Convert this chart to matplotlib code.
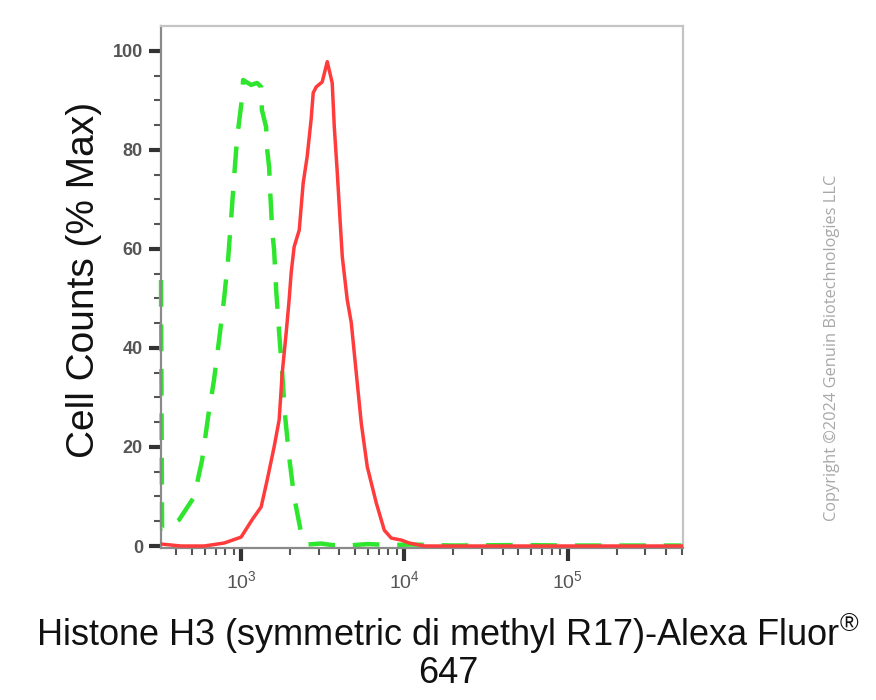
import matplotlib
matplotlib.use("Agg")
import matplotlib.pyplot as plt
from matplotlib.ticker import LogLocator, FixedLocator, NullFormatter, FixedFormatter

# ---------------- data ----------------
green_x = [323, 328, 351, 417, 515, 577, 628, 682, 733, 787, 832, 868, 906, 945,
           1014, 1029, 1152, 1253, 1327, 1340, 1423, 1444, 1486, 1507, 1528, 1549,
           1593, 1640, 1711, 1786, 1862, 1969, 2113, 2333, 2539, 3096, 3600, 4500,
           6000, 8000, 11000, 20000, 50000, 100000, 200000, 500000]
green_y = [53.7, 3.5, 3.6, 5.3, 9.9, 17.4, 26.1, 33.5, 41.6, 50.0, 57.8, 65.9, 74.5, 82.4,
           90.5, 94.1, 93.1, 93.5, 92.7, 88.1, 84.6, 80.1, 76.4, 71.5, 67.9, 63.8,
           59.8, 51.7, 43.0, 34.9, 26.1, 18.0, 9.9, 2.6, 0.3, 0.5, 0.2, 0.1,
           0.4, 0.2, 0.3, 0.1, 0.2, 0.1, 0.1, 0.1]

red_x = [323, 429, 593, 787, 1000, 1168, 1327, 1444, 1593, 1711, 1786, 1888, 1969,
         2027, 2113, 2271, 2401, 2539, 2685, 2766, 2886, 3140, 3372, 3616, 3724,
         3884, 4049, 4169, 4470, 4731, 5078, 5449, 5929, 6733, 7538, 8318, 9590,
         10733, 13270, 20000, 50000, 100000, 200000, 500000]
red_y = [0.4, 0.0, 0.0, 0.6, 1.8, 5.3, 7.9, 13.3, 20.0, 25.5, 34.9, 43.0, 49.7,
         55.2, 60.4, 63.8, 73.3, 78.6, 86.1, 91.5, 92.7, 93.7, 97.8, 93.5, 84.6,
         75.4, 65.3, 58.4, 49.7, 45.1, 34.9, 24.8, 16.0, 8.7, 3.2, 1.6, 1.2,
         0.6, 0.0, 0.0, 0.0, 0.0, 0.0, 0.0]

y_ticks = [0, 20, 40, 60, 80, 100]
x_major = [1e3, 1e4, 1e5]
x_labels = ["$10^{3}$", "$10^{4}$", "$10^{5}$"]

xlabel_text = "Histone H3 (symmetric di methyl R17)-Alexa Fluor$^{\\circledR}$\n647"
ylabel_text = "Cell Counts (% Max)"
copyright_text = "Copyright \u00a92024 Genuin Biotechnologies LLC"

# ---------------- fonts ----------------
plt.rcParams['font.family'] = ['Liberation Sans', 'DejaVu Sans']
plt.rcParams['mathtext.fontset'] = 'custom'
plt.rcParams['mathtext.rm'] = 'Liberation Sans'
plt.rcParams['mathtext.bf'] = 'Liberation Sans:bold'
plt.rcParams['mathtext.it'] = 'Liberation Sans:italic'

fig = plt.figure(figsize=(8.76, 7.0), dpi=100)
ax = fig.add_axes([161/876, 1 - 548/700, (683-161)/876, (548-26)/700])

ax.plot(green_x, green_y, color="#2ee62e", lw=3.2, dashes=(6, 4), zorder=2, clip_on=False)
ax.plot(red_x, red_y, color="#ff3b3b", lw=2.5, zorder=3)

ax.set_xscale("log")
ax.set_xlim(323, 510000)
ax.set_ylim(-0.4, 105)

ax.xaxis.set_major_locator(FixedLocator(x_major))
ax.xaxis.set_major_formatter(FixedFormatter(x_labels))
ax.xaxis.set_minor_locator(LogLocator(base=10, subs=[2, 3, 4, 5, 6, 7, 8, 9], numticks=20))
ax.xaxis.set_minor_formatter(NullFormatter())

ax.set_yticks(y_ticks)
ax.set_yticks(range(0, 105, 5), minor=True)

for s in ["left", "bottom"]:
    ax.spines[s].set_color("#8a8a8a")
    ax.spines[s].set_linewidth(1.6)
for s in ["top", "right"]:
    ax.spines[s].set_color("#c4c4c4")
    ax.spines[s].set_linewidth(1.6)

ax.tick_params(axis="both", which="major", direction="out", length=9, width=3,
               color="#333333", labelcolor="#555555")
ax.tick_params(axis="y", labelsize=13, pad=4)
ax.tick_params(axis="x", labelsize=14, pad=7)
ax.tick_params(axis="both", which="minor", direction="out", length=5, width=1.5,
               color="#555555")
for lab in ax.get_yticklabels():
    lab.set_fontweight("bold")

ax.set_ylabel(ylabel_text, fontsize=28, color="#111111")
ax.yaxis.set_label_coords(-(161 - 102) / 522, (548 - 280) / 522)
ax.set_xlabel(xlabel_text, fontsize=26, color="#111111", linespacing=1.0)
ax.xaxis.set_label_coords((448 - 161) / 522, -(691 - 548) / 522)
ax.xaxis.label.set_va("bottom")

fig.text(832/876, 1 - 348/700, copyright_text, rotation=90, ha="center", va="center",
         fontsize=11.8, color="#a8a8a8", family=["Open Sans", "DejaVu Sans"])

fig.savefig("out.png", dpi=100)
